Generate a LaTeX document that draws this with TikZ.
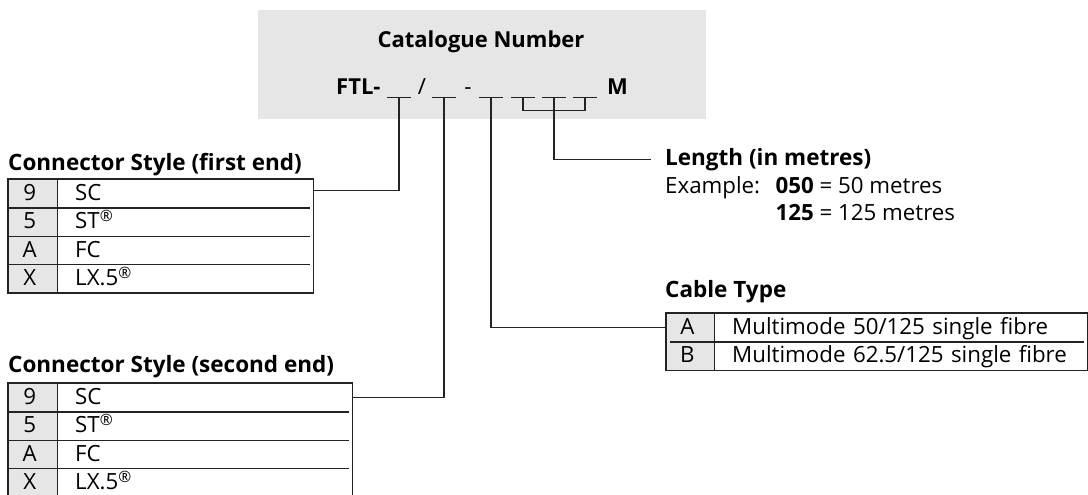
\documentclass[tikz,border=0pt]{standalone}
\usepackage{fontspec}
\setmainfont{Open Sans}
\usetikzlibrary{positioning,calc,matrix}
\definecolor{panelgray}{RGB}{230,230,230}
\definecolor{keygray}{RGB}{230,230,230}
\definecolor{rulec}{RGB}{35,35,35}
\newcommand{\reg}{\textsuperscript{\textregistered}}
\tikzset{
  panel/.style={fill=panelgray, draw=none, inner sep=0pt},
  headf/.style={font=\fontsize{22.5}{26}\selectfont\bfseries, anchor=base west, inner sep=0pt},
  bodyf/.style={font=\fontsize{22.3}{26}\selectfont, anchor=base west, inner sep=0pt},
  catf/.style={font=\fontsize{22}{26}\selectfont\bfseries, anchor=base west, inner sep=0pt},
  slot/.style={minimum width=24pt, minimum height=6pt, inner sep=0pt},
  slotline/.style={line width=1.2pt, rulec},
  link/.style={line width=1.2pt, rulec},
  tabrule/.style={line width=1.2pt, rulec},
  rowrule/.style={line width=1.4pt, rulec},
  codetab/.style={matrix of nodes, ampersand replacement=\amp, inner sep=0pt,
                  row sep=0pt, column sep=0pt, anchor=north west,
                  nodes={font=\fontsize{22.3}{26}\selectfont, inner sep=0pt, anchor=center,
                         minimum height=28.4pt, text height=16pt, text depth=2pt},
                  column 1/.style={nodes={keycell}}},
  keycell/.style={fill=keygray, minimum width=49pt, align=center},
  textcell/.style={text width=#1, align=left, execute at begin node=\hspace*{18pt}}
}
\begin{document}
\begin{tikzpicture}[x=1pt, y=-1pt]
\useasboundingbox (0,0) rectangle (1088,495);
% catalogue number panel
\node[panel, minimum width=448pt, minimum height=109pt, anchor=north west] (panel) at (258,10) {};
\node[catf, anchor=base] (cat) at (481,48) {Catalogue Number};
\node[catf] (ftl) at (336,95) {FTL-};
\node[bodyf, anchor=base] (slash) at (422,95) {/};
\node[bodyf, anchor=base] (dash) at (468,95) {-};
\node[catf] (m) at (607,95) {M};
\foreach \n/\x in {1/399,2/444,3/491,4/523,5/554,6/585}
  \node[slot] (s\n) at (\x,94) {};
\foreach \n in {1,...,6}
  \draw[slotline] (s\n.south west) -- (s\n.south east);

% connector style, first end
\node[headf] (h1) at (8,170) {Connector Style (first end)};
\matrix (t1) [codetab, column 2/.style={nodes={textcell=256pt}}] at (8,179) {
  9 \amp SC \\
  5 \amp ST\reg \\
  A \amp FC \\
  X \amp LX.5\reg \\
};
\draw[tabrule] (t1.north west) rectangle (t1.south east);
\draw[tabrule] (t1-1-1.north east) -- (t1-4-1.south east);
\foreach \r in {1,2,3}
  \draw[rowrule] (t1-\r-1.south west) -- ([xshift=-3pt]t1-\r-2.south east);

% connector style, second end
\node[headf] (h2) at (8,372) {Connector Style (second end)};
\matrix (t2) [codetab, column 2/.style={nodes={textcell=295pt}}] at (8,383) {
  9 \amp SC \\
  5 \amp ST\reg \\
  A \amp FC \\
  X \amp LX.5\reg \\
};
\draw[tabrule] (t2.north west) rectangle (t2.south east);
\draw[tabrule] (t2-1-1.north east) -- (t2-4-1.south east);
\foreach \r in {1,2,3}
  \draw[rowrule] (t2-\r-1.south west) -- ([xshift=-3pt]t2-\r-2.south east);

% cable type
\node[headf] (h3) at (665,297) {Cable Type};
\matrix (t3) [codetab, column 1/.style={nodes={keycell, minimum width=48pt}},
              column 2/.style={nodes={textcell=373pt}}] at (666,313) {
  A \amp Multimode 50/125 single fibre \\
  B \amp Multimode 62.5/125 single fibre \\
};
\draw[tabrule] (t3.north west) rectangle (t3.south east);
\draw[tabrule] (t3-1-1.north east) -- (t3-2-1.south east);
\draw[rowrule] ([xshift=4pt]t3-1-1.south west) -- ([xshift=-3pt]t3-1-2.south east);

% length
\node[headf] (len) at (665,165) {Length (in metres)};
\node[bodyf] (ex) at (665,193) {Example:};
\node[bodyf] (ex1) at ($(ex.base east)+(15,0)$) {\textbf{050} = 50 metres};
\node[bodyf] (ex2) at ($(ex1.base west)+(0,27)$) {\textbf{125} = 125 metres};

% leaders
\draw[link] (s1.south) |- ([yshift=3pt]t1-1-2.east);
\draw[link] (s2.south) |- (t2-1-2.east);
\draw[link] (s3.south) |- (t3-1-1.west);
\draw[link] (s4.south) -- ++(0,13) -| (s6.south);
\draw[link] (s5.south) |- ([xshift=-14pt]len.west);
\end{tikzpicture}
\end{document}
